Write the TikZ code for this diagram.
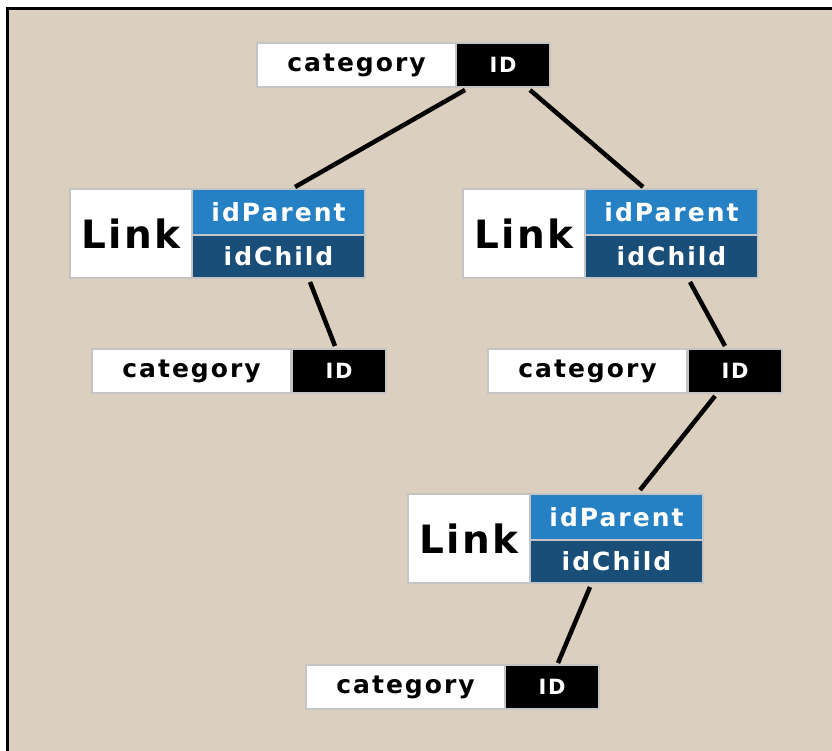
\documentclass[tikz,border=0pt]{standalone}
\usepackage{fontspec}
\setmainfont{DejaVu Sans}
\newfontfamily\boldsp[LetterSpace=8]{DejaVu Sans Bold}
\newfontfamily\linkfont[LetterSpace=6]{DejaVu Sans Bold}
\newfontfamily\idfont[LetterSpace=8]{DejaVu Sans Bold}
\usetikzlibrary{calc}
\definecolor{bg}{HTML}{DBCFBF}
\definecolor{pblue}{HTML}{2581C4}
\definecolor{cblue}{HTML}{184E78}
\definecolor{boxgray}{HTML}{C4C4C4}
\tikzset{
  part/.style={draw=boxgray, line width=1.5pt, anchor=north west, inner sep=0pt, outer sep=0pt, align=center},
  catw/.style={part, fill=white, minimum width=199pt, minimum height=44pt, font=\boldsp\fontsize{25}{25}\selectfont},
  catid/.style={part, fill=black, text=white, minimum width=94pt, minimum height=44pt, font=\idfont\fontsize{21}{21}\selectfont},
  linkw/.style={part, fill=white, minimum width=122pt, minimum height=89pt, font=\linkfont\fontsize{39}{39}\selectfont},
  linkp/.style={part, fill=pblue, text=white, minimum width=173pt, minimum height=46pt, font=\boldsp\fontsize{25}{25}\selectfont},
  linkc/.style={part, fill=cblue, text=white, minimum width=173pt, minimum height=43pt, font=\boldsp\fontsize{25}{25}\selectfont},
  conn/.style={line width=4.5pt, black}
}
\begin{document}
\begin{tikzpicture}[x=1pt, y=-1pt]
\useasboundingbox (0,0) rectangle (832,751);
\fill[bg] (7,8) rectangle (832,751);
\draw[line width=3pt] (7.5,751) -- (7.5,8.5) -- (832,8.5);

% top category
\node[catw] (c1) at (257,43) {category};
\node[catid] (c1id) at (456,43) {ID};
% link 1
\node[linkw] (l1) at (70,189) {Link};
\node[linkp] (l1p) at (192,189) {idParent};
\node[linkc] (l1c) at (192,235) {idChild};
% link 2
\node[linkw] (l2) at (463,189) {Link};
\node[linkp] (l2p) at (585,189) {idParent};
\node[linkc] (l2c) at (585,235) {idChild};
% category 2
\node[catw] (c2) at (92,349) {category};
\node[catid] (c2id) at (292,349) {ID};
% category 3
\node[catw] (c3) at (488,349) {category};
\node[catid] (c3id) at (688,349) {ID};
% link 3
\node[linkw] (l3) at (408,494) {Link};
\node[linkp] (l3p) at (530,494) {idParent};
\node[linkc] (l3c) at (530,540) {idChild};
% category 4
\node[catw] (c4) at (306,665) {category};
\node[catid] (c4id) at (505,665) {ID};

% connectors
\draw[conn] ($(c1id.south west)+(9,3)$) -- ($(l1p.north west)+(103,-2)$);
\draw[conn] ($(c1id.south west)+(74,3)$) -- ($(l2p.north west)+(58,-2)$);
\draw[conn] ($(l1c.south west)+(118,4)$) -- ($(c2id.north west)+(43,-3)$);
\draw[conn] ($(l2c.south west)+(105,4)$) -- ($(c3id.north west)+(37,-3)$);
\draw[conn] ($(c3id.south west)+(27,3)$) -- ($(l3p.north west)+(110,-4)$);
\draw[conn] ($(l3c.south west)+(60,4)$) -- ($(c4id.north west)+(53,-2)$);
\end{tikzpicture}
\end{document}
